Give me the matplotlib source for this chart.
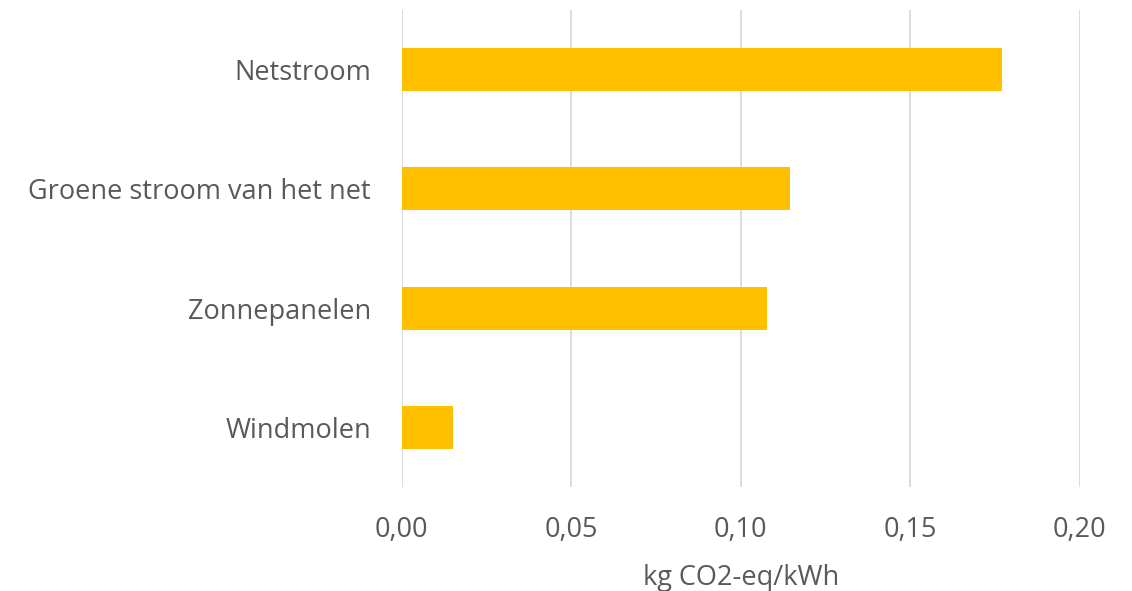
import matplotlib.pyplot as plt

categories = ['Netstroom', 'Groene stroom van het net', 'Zonnepanelen', 'Windmolen']
values = [0.177, 0.1145, 0.1077, 0.0153]
xticks = [0.00, 0.05, 0.10, 0.15, 0.20]
xtick_labels = ['0,00', '0,05', '0,10', '0,15', '0,20']

plt.rcParams['font.family'] = ['Open Sans', 'DejaVu Sans']
text_color = '#595959'

fig = plt.figure(figsize=(11.32, 5.91), dpi=100)
ax = fig.add_axes([0.3547, 0.176, 0.954 - 0.3547, 0.983 - 0.176])

ax.barh(range(len(categories)), values, height=0.36, color='#FFC000', zorder=3)
ax.set_ylim(3.5, -0.5)
ax.set_xlim(0, 0.20)
ax.set_yticks(range(len(categories)))
ax.set_yticklabels(categories, fontsize=19.5, color=text_color)
ax.set_xticks(xticks)
ax.set_xticklabels(xtick_labels, fontsize=19.5, color=text_color)
ax.tick_params(length=0)
ax.tick_params(axis='y', pad=22)
ax.tick_params(axis='x', pad=21)
ax.xaxis.grid(True, color='#D9D9D9', linewidth=1.3, zorder=0)
for s in ax.spines.values():
    s.set_visible(False)
ax.set_xlabel('kg CO2-eq/kWh', fontsize=19.5, color=text_color, labelpad=14)

fig.savefig('out.png', dpi=100)
